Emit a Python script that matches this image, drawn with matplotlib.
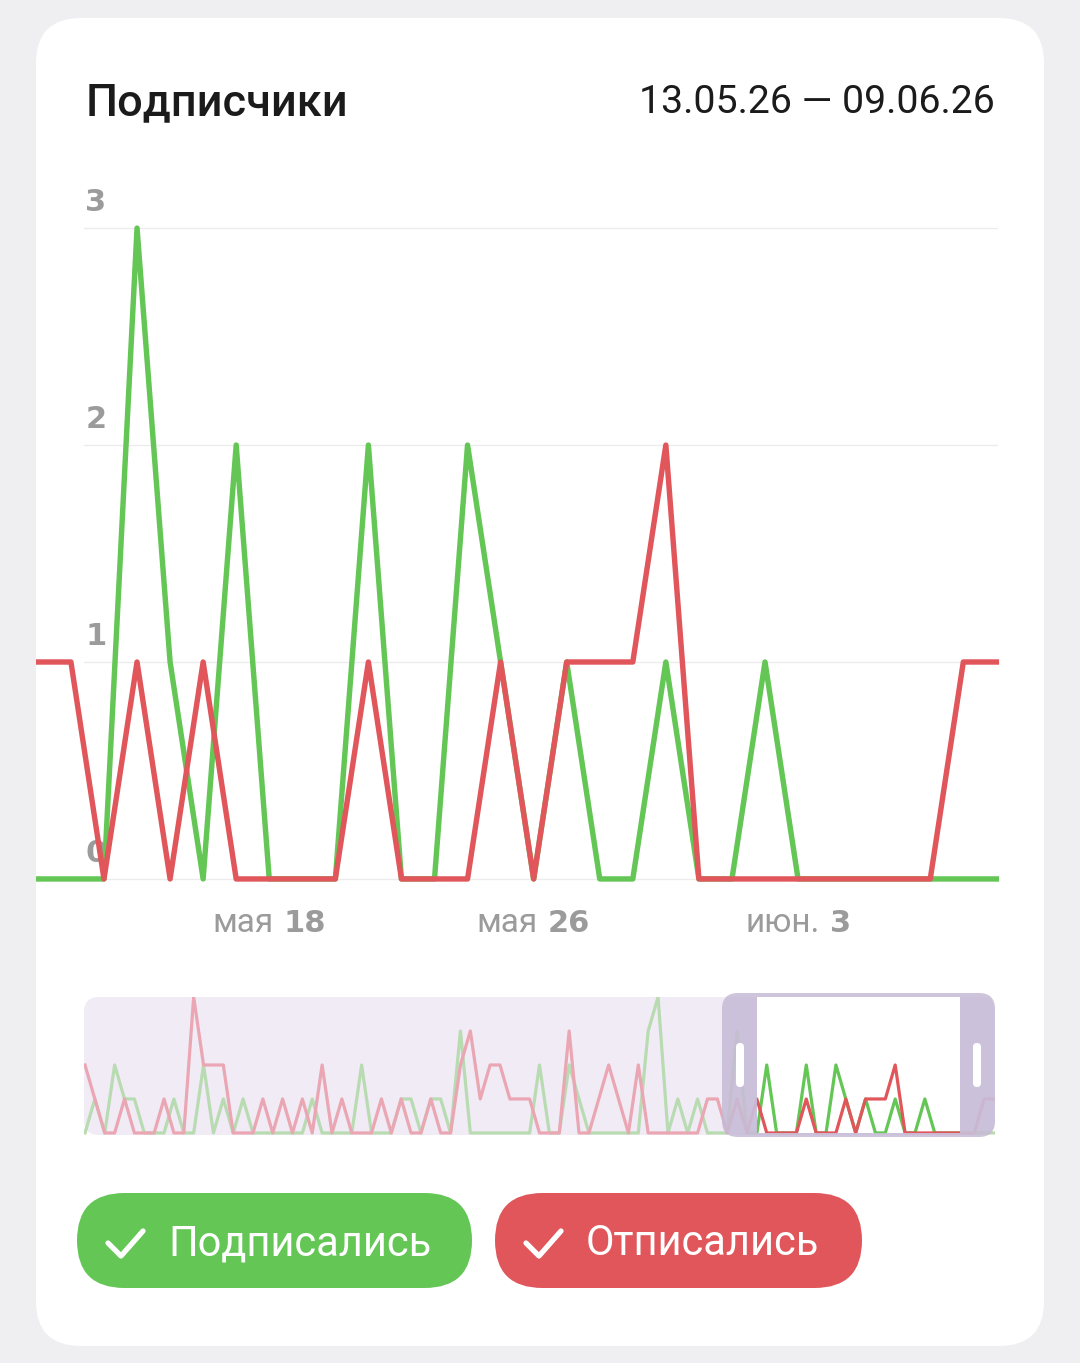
import matplotlib.pyplot as plt
import numpy as np
from matplotlib.patches import FancyBboxPatch, Rectangle
from matplotlib.lines import Line2D

W, H = 1080, 1363

# main chart, one point per day (11 May .. 9 June)
days = np.arange(30)
subscribed = [0, 0, 0, 3, 1, 0, 2, 0, 0, 0, 2, 0, 0, 2, 1, 0, 1, 0, 0, 1, 0, 0, 1, 0, 0, 0, 0, 0, 0, 0]
unsubscribed = [1, 1, 0, 1, 0, 1, 0, 0, 0, 0, 1, 0, 0, 0, 1, 0, 1, 1, 1, 2, 0, 0, 0, 0, 0, 0, 0, 0, 1, 1]
tick_days = [7, 15, 23]
tick_months = ["мая", "мая", "июн."]
tick_nums = ["18", "26", "3"]
y_ticks = [0, 1, 2, 3]

# overview strip under the chart
nav_subscribed = [0, 1, 0, 2, 1, 1, 0, 0, 0, 1,
                  0, 0, 2, 0, 1, 0, 1, 0, 0, 0,
                  0, 0, 0, 1, 0, 0, 0, 0, 2, 0,
                  0, 0, 1, 1, 0, 1, 1, 0, 3, 0,
                  0, 0, 0, 0, 0, 0, 2, 0, 0, 2,
                  1, 0, 0, 0, 0, 0, 0, 3, 4, 0,
                  1, 0, 1, 0, 0, 0, 3, 0, 0, 2,
                  0, 0, 0, 2, 0, 0, 2, 1, 0, 1,
                  0, 0, 1, 0, 0, 1, 0, 0, 0, 0,
                  0, 0, 0]
nav_unsubscribed = [2, 1, 0, 0, 1, 0, 0, 0, 1, 0,
                    0, 4, 2, 2, 2, 0, 0, 0, 1, 0,
                    1, 0, 1, 0, 2, 0, 1, 0, 0, 0,
                    1, 0, 1, 0, 0, 1, 0, 0, 2, 3,
                    1, 2, 2, 1, 1, 1, 0, 0, 0, 3,
                    0, 0, 1, 2, 1, 0, 2, 0, 0, 0,
                    0, 0, 0, 1, 1, 0, 1, 0, 1, 0,
                    0, 0, 0, 1, 0, 0, 0, 1, 0, 1,
                    1, 1, 2, 0, 0, 0, 0, 0, 0, 0,
                    0, 1, 1]
nav_days = np.arange(len(nav_subscribed))

title = "Подписчики"
period = "13.05.26 — 09.06.26"
legend_labels = ["Подписались", "Отписались"]

GREEN = "#63c655"
RED = "#e0565b"
GREY = "#9b9b9b"


def frac(x0, y0, x1, y1):
    # pixel box (top-left origin) -> figure fraction rect
    return [x0 / W, 1 - y1 / H, (x1 - x0) / W, (y1 - y0) / H]


fig = plt.figure(figsize=(W / 100, H / 100), dpi=100)
fig.patch.set_facecolor("#efeff1")

bg = fig.add_axes([0, 0, 1, 1])
bg.set_xlim(0, W)
bg.set_ylim(H, 0)
bg.axis("off")

bg.add_patch(FancyBboxPatch((36, 18), 1008, 1328, boxstyle="round,pad=0,rounding_size=45",
                            fc="white", ec="none"))

bg.text(86, 115, title, fontsize=32.5, fontweight="medium", family="Roboto",
        color="#1b1b1b", va="baseline", ha="left")
bg.text(995, 113, period, fontsize=28.3, family="Roboto",
        color="#1b1b1b", va="baseline", ha="right")

# main chart
ax = fig.add_axes(frac(36, 150, 1000, 895))
ax.set_facecolor("none")
ax.set_xlim(-0.057, 29.11)
ax.set_ylim(-0.074, 3.36)
ax.axis("off")

for v in y_ticks:
    ax.axhline(v, xmin=0.05, xmax=0.997, color="#ececec", lw=1, zorder=1)
    ax.annotate(str(v), xy=(0.051, v), xycoords=("axes fraction", "data"),
                xytext=(0, 12), textcoords="offset points", ha="left", va="baseline",
                fontsize=22, fontweight="bold", family="DejaVu Sans", color=GREY, zorder=2)

ax.plot(days, subscribed, color=GREEN, lw=3.9, zorder=3)
ax.plot(days, unsubscribed, color=RED, lw=3.9, zorder=4)

# x labels: light month + bold day number, centred on the date
renderer = fig.canvas.get_renderer()
for d, m, n in zip(tick_days, tick_months, tick_nums):
    cx = ax.transData.transform((d, 0))[0]
    t1 = bg.text(0, 932, m, fontsize=24, family="Roboto", color=GREY, va="baseline", ha="left")
    t2 = bg.text(0, 932, n, fontsize=22, fontweight="bold", family="DejaVu Sans",
                 color=GREY, va="baseline", ha="left")
    w1 = t1.get_window_extent(renderer).width
    w2 = t2.get_window_extent(renderer).width
    gap = 10
    left = cx - (w1 + gap + w2) / 2
    t1.set_x(left)
    t2.set_x(left + w1 + gap)

# overview strip
bg.add_patch(FancyBboxPatch((84, 997), 911, 138, boxstyle="round,pad=0,rounding_size=15",
                            fc="#f1ebf6", ec="none"))

nav = fig.add_axes(frac(84, 997, 995, 1135))
nav.set_facecolor("none")
nav.set_xlim(-0.1, 92.1)
nav.set_ylim(-0.06, 4.0)
nav.axis("off")

nav.plot(nav_days, nav_subscribed, color="#b8dbb2", lw=2.3, zorder=2)
nav.plot(nav_days, nav_unsubscribed, color="#eaa6b2", lw=2.3, zorder=2)

nav.add_patch(FancyBboxPatch((722, 993), 273, 144, boxstyle="round,pad=0,rounding_size=16",
                             transform=bg.transData, fc="#c6bad5", alpha=0.85, ec="none",
                             zorder=3, clip_on=False))
window = Rectangle((757, 997), 203, 136, transform=bg.transData, fc="white", ec="none",
                   zorder=4, clip_on=False)
nav.add_patch(window)

g, = nav.plot(nav_days, nav_subscribed, color=GREEN, lw=2.3, zorder=5)
r, = nav.plot(nav_days, nav_unsubscribed, color=RED, lw=2.3, zorder=6)
g.set_clip_path(window)
r.set_clip_path(window)

for hx in (736, 973):
    nav.add_patch(FancyBboxPatch((hx, 1043), 8, 44, boxstyle="round,pad=0,rounding_size=4",
                                 transform=bg.transData, fc="white", ec="none",
                                 zorder=7, clip_on=False))

# legend pills
pills = [(77, 395, GREEN), (495, 367, RED)]
for (px, pw, col), label in zip(pills, legend_labels):
    bg.add_patch(FancyBboxPatch((px, 1193), pw, 95, boxstyle="round,pad=0,rounding_size=47.5",
                                fc=col, ec="none"))
    bg.add_line(Line2D([px + 31, px + 44, px + 66], [1243, 1256, 1231], color="white",
                       lw=3.8, solid_capstyle="round", solid_joinstyle="round"))
    bg.text(px + 91, 1255, label, fontsize=30, family="Roboto", color="white",
            va="baseline", ha="left")

fig.savefig("out.png", dpi=100, facecolor=fig.get_facecolor())
